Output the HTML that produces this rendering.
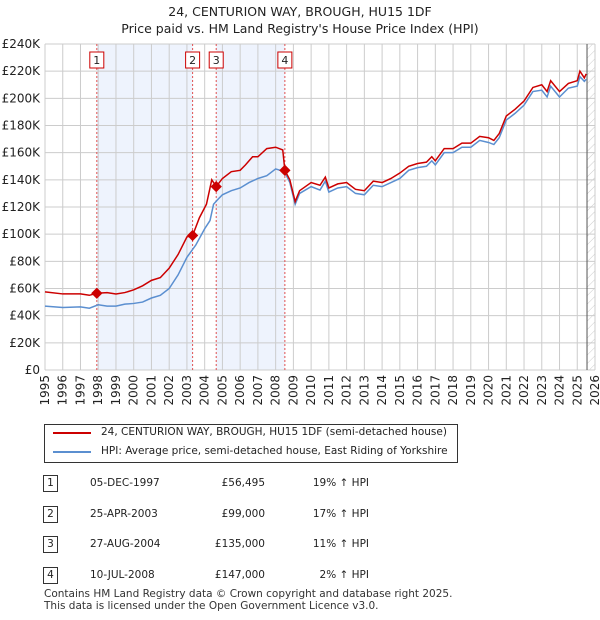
<!DOCTYPE html>
<html><head><meta charset="utf-8"><style>
body{margin:0;background:#fff;font-family:"DejaVu Sans","Liberation Sans",sans-serif;}
#wrap{position:relative;width:600px;height:620px;overflow:hidden}
.t{position:absolute;font-size:13px;color:#222}
</style></head><body><div id="wrap">
<div class="t" style="left:0;width:600px;top:3px;text-align:center;line-height:17px;font-size:12.5px">24, CENTURION WAY, BROUGH, HU15 1DF<br>Price paid vs. HM Land Registry's House Price Index (HPI)</div>
<svg id="c" width="600" height="420" style="position:absolute;left:0;top:0"></svg>
<div style="position:absolute;left:44px;top:424px;width:412px;height:37px;border:1px solid #333;font-size:10.5px;color:#222">
 <div style="position:absolute;left:8px;top:7px;width:38px;height:2px;background:#cc0000"></div>
 <div style="position:absolute;left:56px;top:1px">24, CENTURION WAY, BROUGH, HU15 1DF (semi-detached house)</div>
 <div style="position:absolute;left:8px;top:26px;width:38px;height:2px;background:#5b8fd0"></div>
 <div style="position:absolute;left:56px;top:20px">HPI: Average price, semi-detached house, East Riding of Yorkshire</div>
</div>
<div id="tbl"></div>
<div class="t" style="left:44px;top:588px;font-size:10.5px;line-height:12px;color:#333">Contains HM Land Registry data © Crown copyright and database right 2025.<br>This data is licensed under the Open Government Licence v3.0.</div>
</div>
<script>
const hY=[1995,1996,1997,1997.5,1998,1998.5,1999,1999.5,2000,2000.5,2001,2001.5,2002,2002.5,2003,2003.5,2004,2004.3,2004.5,2004.7,2005,2005.5,2006,2006.5,2007,2007.5,2008,2008.5,2008.8,2009.1,2009.35,2010,2010.5,2010.8,2011,2011.5,2012,2012.5,2013,2013.5,2014,2014.5,2015,2015.5,2016,2016.5,2016.8,2017,2017.5,2018,2018.5,2019,2019.5,2020,2020.3,2020.6,2021,2021.5,2022,2022.5,2023,2023.3,2023.5,2024,2024.5,2025,2025.15,2025.4,2025.5];
const hV=[47,46,46.5,45.5,48,47,47,48.5,49,50,53,55,60,70,83,92,104,110,122,125,129,132,134,138,141,143,148,146,138,122,130,135,132.5,139,131,134,135,130,129,136,135,138,141,147,149,150,154,151,160,160,164,164,169,167.5,166,171,184,189,195,205,206,201,209,201,207.5,209,216,212.5,214];
const pY=[1995,1996,1997,1997.5,1997.92,1998.5,1999,1999.5,2000,2000.5,2001,2001.5,2002,2002.5,2003,2003.32,2003.7,2004.1,2004.4,2004.65,2005,2005.5,2006,2006.3,2006.7,2007,2007.5,2008,2008.4,2008.52,2008.8,2009.1,2009.35,2010,2010.5,2010.8,2011,2011.5,2012,2012.5,2013,2013.5,2014,2014.5,2015,2015.5,2016,2016.5,2016.8,2017,2017.5,2018,2018.5,2019,2019.5,2020,2020.3,2020.6,2021,2021.5,2022,2022.5,2023,2023.3,2023.5,2024,2024.5,2025,2025.15,2025.4,2025.5];
const pV=[57.5,56,56,55,56.5,57,56,57,59,62,66,68,75,85,98,99,112,122,140,135,141,146,147,151,157,157,163,164,162,147,140,124,132,138,136,142,134,137,138,133,132,139,138,141,145,150,152,153,157,154,163,163,167,167,172,171,169,174,187,192,198,208,210,205,213,205,211,213,220,215,218];
const sales=[[1997.92,56.495],[2003.32,99],[2004.65,135],[2008.52,147]];
const yTicks=[0,20,40,60,80,100,120,140,160,180,200,220,240];
const years=[];for(let y=1995;y<=2026;y++)years.push(y);
const X0=45,X1=595,Y0=370,Y1=44;
const xs=y=>X0+(y-1995)/31*(X1-X0);
const ys=v=>Y0-v/240*(Y0-Y1);
const svg=document.getElementById('c');const NS='http://www.w3.org/2000/svg';
function mk(t,a,p){const e=document.createElementNS(NS,t);for(const k in a)e.setAttribute(k,a[k]);(p||svg).appendChild(e);return e;}
let r=mk('rect',{x:xs(sales[0][0]),y:Y1,width:xs(sales[1][0])-xs(sales[0][0]),height:Y0-Y1,fill:'#eef3fd'});


r=mk('rect',{x:xs(sales[2][0]),y:Y1,width:xs(sales[3][0])-xs(sales[2][0]),height:Y0-Y1,fill:'#eef3fd'});


const defs=mk('defs',{});const pat=mk('pattern',{id:'h',width:6,height:6,patternUnits:'userSpaceOnUse',patternTransform:'rotate(45)'},defs);
mk('line',{x1:0,y1:0,x2:0,y2:6,stroke:'#ccc','stroke-width':1},pat);
r=mk('rect',{x:xs(2025.55),y:Y1,width:X1-xs(2025.55),height:Y0-Y1,fill:'url(#h)'});


for(const v of yTicks){mk('line',{x1:X0,x2:X1,y1:ys(v),y2:ys(v),stroke:'#ccc'});
 const t=mk('text',{x:X0-5,y:ys(v)+4,'text-anchor':'end','font-size':12,fill:'#222'});t.textContent=v?'£'+v+'K':'£0';
 
 }
for(const y of years){mk('line',{x1:xs(y),x2:xs(y),y1:Y1,y2:Y0,stroke:'#ccc'});
 const t=mk('text',{transform:`translate(${xs(y)+4},${Y0+5}) rotate(-90)`,'text-anchor':'end','font-size':12,fill:'#222'});t.textContent=y;
 
 }
mk('line',{x1:xs(2025.55),x2:xs(2025.55),y1:Y1,y2:Y0,stroke:'#555'});
sales.forEach((s,i)=>{const x=xs(s[0]);
 const l=mk('line',{x1:x,x2:x,y1:Y1,y2:Y0,stroke:'#e05050','stroke-dasharray':'2,2'});
 
 
 const b=mk('rect',{x:x-7,y:52,width:14,height:16,fill:'#fff',stroke:'#cc0000'});
 
 
 const t=mk('text',{x:x,y:64,'text-anchor':'middle','font-size':11,fill:'#222'});t.textContent=i+1;});
const line=(X,V,c,n)=>{const p=mk('polyline',{points:X.map((y,i)=>xs(y)+','+ys(V[i])).join(' '),fill:'none',stroke:c,'stroke-width':1.5});
 
 };
line(hY,hV,'#5b8fd0','hpi-line');
line(pY,pV,'#cc0000','price-line');
sales.forEach(s=>{const d=mk('rect',{x:xs(s[0])-4,y:ys(s[1])-4,width:8,height:8,fill:'#cc0000',transform:`rotate(45 ${xs(s[0])} ${ys(s[1])})`});
 
 });
const rows=[['1','05-DEC-1997','£56,495','19% ↑ HPI'],['2','25-APR-2003','£99,000','17% ↑ HPI'],['3','27-AUG-2004','£135,000','11% ↑ HPI'],['4','10-JUL-2008','£147,000','2% ↑ HPI']];
const tb=document.getElementById('tbl');
rows.forEach((rw,i)=>{const top=475+i*30.5;const d=document.createElement('div');
 
 
 d.style.cssText=`position:absolute;left:0;top:${top}px;width:600px;height:18px;font-size:10.5px;color:#222`;
 d.innerHTML=`<div style="position:absolute;left:43px;top:0;width:13px;height:15px;border:1px solid #333;text-align:center;line-height:15px">${rw[0]}</div><div style="position:absolute;left:90px;top:2px">${rw[1]}</div><div style="position:absolute;right:335px;top:2px">${rw[2]}</div><div style="position:absolute;right:231px;top:2px">${rw[3]}</div>`;
 tb.appendChild(d);});
</script></body></html>
